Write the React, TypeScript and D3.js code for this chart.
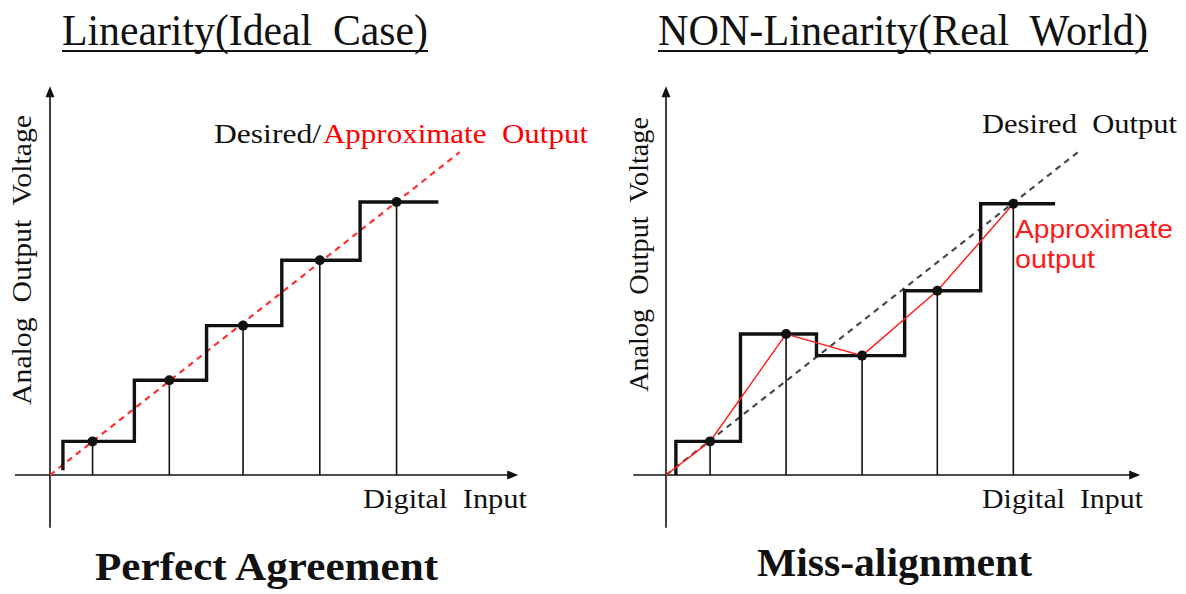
import React from "react";
import * as d3 from "d3";

const width = 1186;
const height = 594;

// digital input positions (1 unit = one code step) and analog levels
const idealCodes = [0.56, 1.57, 2.54, 3.55, 4.56];
const idealLevels = [0.56, 1.58, 2.49, 3.58, 4.55];
const idealEdges = [0.17, 1.11, 2.06, 3.05, 4.08, 5.11];
const idealLineEnd = [5.39, 5.38];

const realCodes = [0.58, 1.58, 2.58, 3.57, 4.57];
const realLevels = [0.56, 2.35, 1.99, 3.07, 4.52];
const realEdges = [0.13, 0.98, 1.98, 3.14, 4.14, 5.12];
const desiredLineEnd = [5.42, 5.38];

const serif = "'Liberation Serif', 'Times New Roman', serif";
const sans = "'Liberation Sans', Arial, sans-serif";

type PanelProps = {
  ox: number;
  codes: number[];
  levels: number[];
  edges: number[];
  lineEnd: number[];
  xExtent: number[];
  stepStart: number;
  ideal: boolean;
};

const Panel = ({ ox, codes, levels, edges, lineEnd, xExtent, stepStart, ideal }: PanelProps) => {
  const x = d3.scaleLinear().domain([0, 1]).range([ox, ox + 76]);
  const y = d3.scaleLinear().domain([0, 1]).range([475, 415]);
  const line = d3.line<number[]>().x((d) => x(d[0])).y((d) => y(d[1]));

  // staircase output of the converter
  const steps: number[][] = [[edges[0], stepStart]];
  levels.forEach((l, i) => {
    steps.push([edges[i], l]);
    steps.push([edges[i + 1], l]);
  });

  const pts = codes.map((c, i) => [c, levels[i]]);
  const x0 = x(xExtent[0]);
  const x1 = x(xExtent[1]);
  const yTop = y(6.48);
  const yBot = y(-0.88);

  return (
    <g>
      {/* axes */}
      <line x1={x0} x2={x1 - 6} y1={y(0)} y2={y(0)} stroke="#111" strokeWidth={1.6} />
      <path d={`M${x1},${y(0)}L${x1 - 11},${y(0) - 4.5}L${x1 - 11},${y(0) + 4.5}Z`} fill="#111" />
      <line x1={x(0)} x2={x(0)} y1={yBot} y2={yTop + 6} stroke="#111" strokeWidth={1.6} />
      <path d={`M${x(0)},${yTop}L${x(0) - 4.5},${yTop + 11}L${x(0) + 4.5},${yTop + 11}Z`} fill="#111" />

      {/* drop lines */}
      {pts.map((p, i) => (
        <line key={i} x1={x(p[0])} x2={x(p[0])} y1={y(p[1])} y2={y(0)} stroke="#111" strokeWidth={1.6} />
      ))}

      {/* desired / ideal line */}
      <path
        d={line([[0, 0], lineEnd]) || ""}
        fill="none"
        stroke={ideal ? "#ff3030" : "#4a4a4a"}
        strokeWidth={2.2}
        strokeDasharray="6 5"
      />

      {/* staircase */}
      <path d={line(steps) || ""} fill="none" stroke="#111" strokeWidth={3.4} strokeLinejoin="miter" />

      {/* actual approximate output */}
      {!ideal && (
        <path d={line([[0, 0], ...pts]) || ""} fill="none" stroke="#ff2020" strokeWidth={1.5} />
      )}

      {pts.map((p, i) => (
        <circle key={i} cx={x(p[0])} cy={y(p[1])} r={5} fill="#111" />
      ))}
    </g>
  );
};

const T = (props: any) => (
  <text
    fontFamily={serif}
    fill="#111"
    lengthAdjust="spacingAndGlyphs"
    style={{ whiteSpace: "pre" }}
    {...props}
  />
);

export default function App() {
  return (
    <svg width={width} height={height} style={{ position: "absolute", left: 0, top: 0, background: "#fff" }}>
      <Panel
        ox={50}
        codes={idealCodes}
        levels={idealLevels}
        edges={idealEdges}
        lineEnd={idealLineEnd}
        xExtent={[-0.46, 6.16]}
        stepStart={0.08}
        ideal={true}
      />
      <Panel
        ox={666}
        codes={realCodes}
        levels={realLevels}
        edges={realEdges}
        lineEnd={desiredLineEnd}
        xExtent={[-0.43, 6.24]}
        stepStart={0}
        ideal={false}
      />

      {/* titles */}
      <T x={62} y={45} fontSize={44} textLength={366}>Linearity(Ideal  Case)</T>
      <line x1={62} x2={428} y1={51} y2={51} stroke="#111" strokeWidth={2} />
      <T x={658} y={45} fontSize={44} textLength={490}>NON-Linearity(Real  World)</T>
      <line x1={658} x2={1148} y1={51} y2={51} stroke="#111" strokeWidth={2} />

      {/* left annotations */}
      <T x={214} y={143} fontSize={28} textLength={107}>Desired/</T>
      <T x={323} y={143} fontSize={28} textLength={265} fill="#ff0000">Approximate  Output</T>
      <T x={363} y={508} fontSize={28} textLength={164}>Digital  Input</T>
      <T x={0} y={0} fontSize={28} textLength={290} transform="translate(31,405) rotate(-90)">
        Analog  Output  Voltage
      </T>
      <T x={95} y={580} fontSize={40} fontWeight="bold" textLength={343}>Perfect Agreement</T>

      {/* right annotations */}
      <T x={982} y={133} fontSize={28} textLength={195}>Desired  Output</T>
      <text x={1015} y={238} fontFamily={sans} fontSize={25} fill="#ff1a1a" textLength={158} lengthAdjust="spacingAndGlyphs">
        Approximate
      </text>
      <text x={1015} y={268} fontFamily={sans} fontSize={25} fill="#ff1a1a" textLength={80} lengthAdjust="spacingAndGlyphs">
        output
      </text>
      <T x={982} y={508} fontSize={28} textLength={161}>Digital  Input</T>
      <T x={0} y={0} fontSize={28} textLength={275} transform="translate(648,392) rotate(-90)">
        Analog  Output  Voltage
      </T>
      <T x={757} y={576} fontSize={40} fontWeight="bold" textLength={275}>Miss-alignment</T>
    </svg>
  );
}
